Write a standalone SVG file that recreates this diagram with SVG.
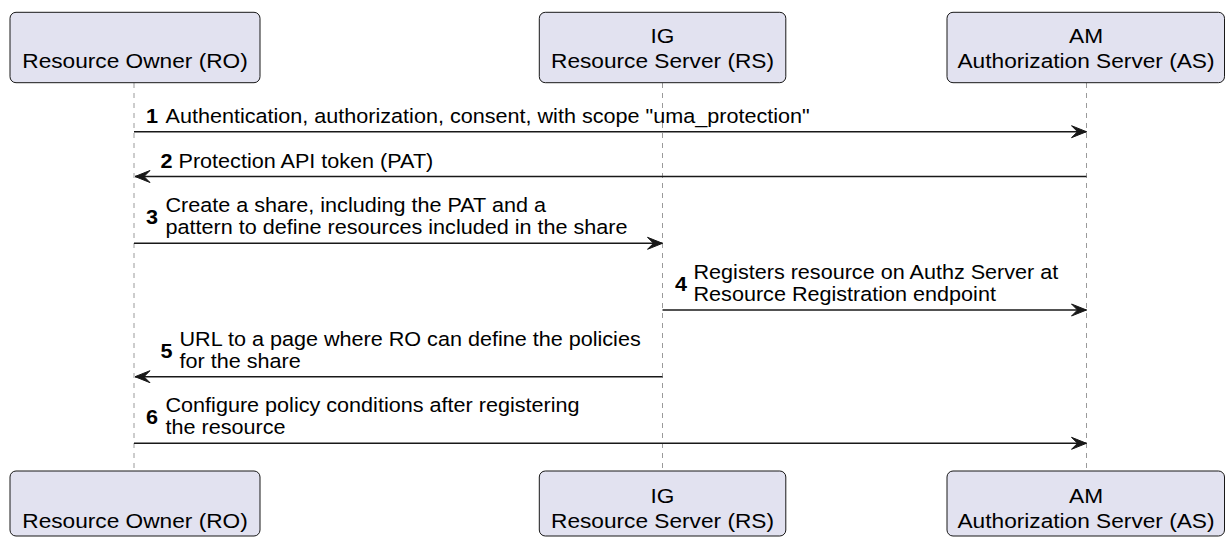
<svg xmlns="http://www.w3.org/2000/svg" width="1226" height="538" viewBox="0 0 1226 538">
<style>
  .box { fill: #E2E2F0; stroke: #181818; stroke-width: 1; }
  .life { stroke: #9a9a9a; stroke-width: 1; stroke-dasharray: 5 5; fill: none; }
  .msg { stroke: #181818; stroke-width: 1.5; fill: none; marker-end: url(#arrow); }
  .pt { font-family: "Liberation Sans", Arial, sans-serif; font-size: 21px; fill: #000; text-anchor: middle; }
  .mt { font-family: "Liberation Sans", Arial, sans-serif; font-size: 19.5px; fill: #000; }
  .num { font-family: "Liberation Sans", Arial, sans-serif; font-size: 19.5px; font-weight: bold; fill: #000; }
</style>
<defs>
  <marker id="arrow" markerUnits="userSpaceOnUse" viewBox="-16 -7 17 14" refX="0" refY="0" markerWidth="17" markerHeight="14" orient="auto">
    <path d="M0,0 L-15,-6 L-9,0 L-15,6 Z" fill="#181818" stroke="#181818" stroke-width="1"/>
  </marker>
</defs>

<g id="lifelines">
  <line class="life" x1="134" y1="83" x2="134" y2="471"/>
  <line class="life" x1="662.5" y1="83" x2="662.5" y2="471"/>
  <line class="life" x1="1086.5" y1="83" x2="1086.5" y2="471"/>
</g>

<g id="node-ro-top">
  <rect class="box" x="10" y="12.3" width="250" height="70.4" rx="6"/>
  <text class="pt" transform="translate(135,68.3) scale(1.08,1)">Resource Owner (RO)</text>
</g>
<g id="node-rs-top">
  <rect class="box" x="539.3" y="12.3" width="246.5" height="70.4" rx="6"/>
  <text class="pt" transform="translate(662.5,43.3) scale(1.08,1)">IG</text>
  <text class="pt" transform="translate(662.5,68.3) scale(1.08,1)">Resource Server (RS)</text>
</g>
<g id="node-as-top">
  <rect class="box" x="947" y="12.3" width="277.5" height="70.4" rx="6"/>
  <text class="pt" transform="translate(1086,43.3) scale(1.08,1)">AM</text>
  <text class="pt" transform="translate(1086,68.3) scale(1.08,1)">Authorization Server (AS)</text>
</g>

<g id="node-ro-bottom">
  <rect class="box" x="10" y="471" width="250" height="65" rx="6"/>
  <text class="pt" transform="translate(135,527.5) scale(1.08,1)">Resource Owner (RO)</text>
</g>
<g id="node-rs-bottom">
  <rect class="box" x="539.3" y="471" width="246.5" height="65" rx="6"/>
  <text class="pt" transform="translate(662.5,502.5) scale(1.08,1)">IG</text>
  <text class="pt" transform="translate(662.5,527.5) scale(1.08,1)">Resource Server (RS)</text>
</g>
<g id="node-as-bottom">
  <rect class="box" x="947" y="471" width="277.5" height="65" rx="6"/>
  <text class="pt" transform="translate(1086,502.5) scale(1.08,1)">AM</text>
  <text class="pt" transform="translate(1086,527.5) scale(1.08,1)">Authorization Server (AS)</text>
</g>

<g id="connectors">
  <line class="msg" x1="134" y1="131.7" x2="1086.5" y2="131.7"/>
  <line class="msg" x1="1086.5" y1="176.5" x2="135" y2="176.5"/>
  <line class="msg" x1="134" y1="243.3" x2="662.5" y2="243.3"/>
  <line class="msg" x1="662.5" y1="310" x2="1086.5" y2="310"/>
  <line class="msg" x1="662.5" y1="376.7" x2="135" y2="376.7"/>
  <line class="msg" x1="134" y1="443.3" x2="1086.5" y2="443.3"/>
</g>

<g id="labels">
  <text class="num" transform="translate(146,122.7) scale(1.108,1)">1</text>
  <text class="mt" transform="translate(165.5,122.7) scale(1.108,1)">Authentication, authorization, consent, with scope "uma_protection"</text>

  <text class="num" transform="translate(160.5,167.5) scale(1.108,1)">2</text>
  <text class="mt" transform="translate(178.5,167.5) scale(1.108,1)">Protection API token (PAT)</text>

  <text class="num" transform="translate(146,224) scale(1.108,1)">3</text>
  <text class="mt" transform="translate(165.5,212.4) scale(1.108,1)">Create a share, including the PAT and a</text>
  <text class="mt" transform="translate(165.5,234.3) scale(1.108,1)">pattern to define resources included in the share</text>

  <text class="num" transform="translate(675,291) scale(1.108,1)">4</text>
  <text class="mt" transform="translate(693.5,279.1) scale(1.108,1)">Registers resource on Authz Server at</text>
  <text class="mt" transform="translate(693.5,301) scale(1.108,1)">Resource Registration endpoint</text>

  <text class="num" transform="translate(160.5,357.5) scale(1.108,1)">5</text>
  <text class="mt" transform="translate(179.5,345.8) scale(1.108,1)">URL to a page where RO can define the policies</text>
  <text class="mt" transform="translate(179.5,367.7) scale(1.108,1)">for the share</text>

  <text class="num" transform="translate(146,424) scale(1.108,1)">6</text>
  <text class="mt" transform="translate(165.5,412.4) scale(1.108,1)">Configure policy conditions after registering</text>
  <text class="mt" transform="translate(165.5,434.3) scale(1.108,1)">the resource</text>
</g>
</svg>
